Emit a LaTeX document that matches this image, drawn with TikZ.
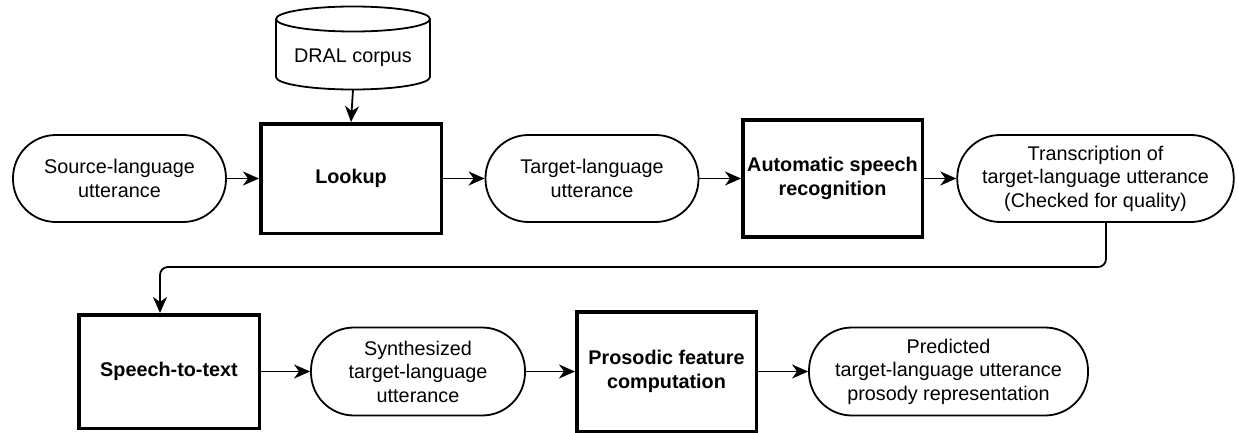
\documentclass[tikz,border=0pt]{standalone}
\usepackage{fontspec}
\setmainfont{Liberation Sans}
\usetikzlibrary{arrows.meta}
\begin{document}
\begin{tikzpicture}[x=1pt,y=-1pt,
  txt/.style={font=\fontsize{19.8}{23.5}\selectfont, align=center},
  pill/.style={txt, draw, line width=1.8pt, rounded corners=43pt, inner sep=0pt},
  proc/.style={draw, line width=3.5pt, inner sep=0pt, align=center, font=\fontsize{19.8}{23.5}\selectfont\bfseries},
  arr/.style={line width=1.8pt, -{Stealth[length=16pt,width=14pt,inset=5pt]}}]
\useasboundingbox (0,0) rectangle (1238,433);

% database cylinder
\draw[line width=1.8pt, fill=white] (276,19) -- (276,77) arc[start angle=180, end angle=0, x radius=77, y radius=12.5] -- (430,19);
\draw[line width=1.8pt] (353,19) ellipse[x radius=77, y radius=12.5];
\node[txt] (dral) at (353,58) {DRAL corpus};
\coordinate (dralb) at (353,89.5);

% top row
\node[pill, minimum width=213pt, minimum height=87pt] (src) at (119.5,178.5) {Source-language\\utterance};
\node[proc, minimum width=180.5pt, minimum height=109.5pt] (lookup) at (351,178.5) {Lookup};
\node[pill, minimum width=213pt, minimum height=87pt] (tgt) at (592,178.5) {Target-language\\utterance};
\node[proc, minimum width=179.5pt, minimum height=116.5pt] (asr) at (832.5,178.5) {Automatic speech\\recognition};
\node[pill, minimum width=276.5pt, minimum height=87pt] (trans) at (1095.5,178.5) {Transcription of\\target-language utterance\\(Checked for quality)};

% bottom row
\node[proc, minimum width=180.5pt, minimum height=113.5pt] (stt) at (169,371.5) {Speech-to-text};
\node[pill, minimum width=214pt, minimum height=88pt] (syn) at (418,371.5) {Synthesized\\target-language\\utterance};
\node[proc, minimum width=179.5pt, minimum height=119.5pt] (pros) at (666.5,371.5) {Prosodic feature\\computation};
\node[pill, minimum width=279pt, minimum height=88pt] (pred) at (948.5,371.5) {Predicted\\target-language utterance\\prosody representation};

% connectors
\draw[arr] (dralb) -- (lookup.north);
\draw[arr] (src) -- (lookup);
\draw[arr] (lookup) -- (tgt);
\draw[arr] (tgt) -- (asr);
\draw[arr] (asr) -- (trans);
\coordinate (k1) at (1106,267);
\coordinate (k2) at (160,267);
\draw[arr, rounded corners=8pt] (trans.south -| k1) -- (k1) -- (k2) -- (stt.north -| k2);
\draw[arr] (stt) -- (syn);
\draw[arr] (syn) -- (pros);
\draw[arr] (pros) -- (pred);
\end{tikzpicture}
\end{document}
